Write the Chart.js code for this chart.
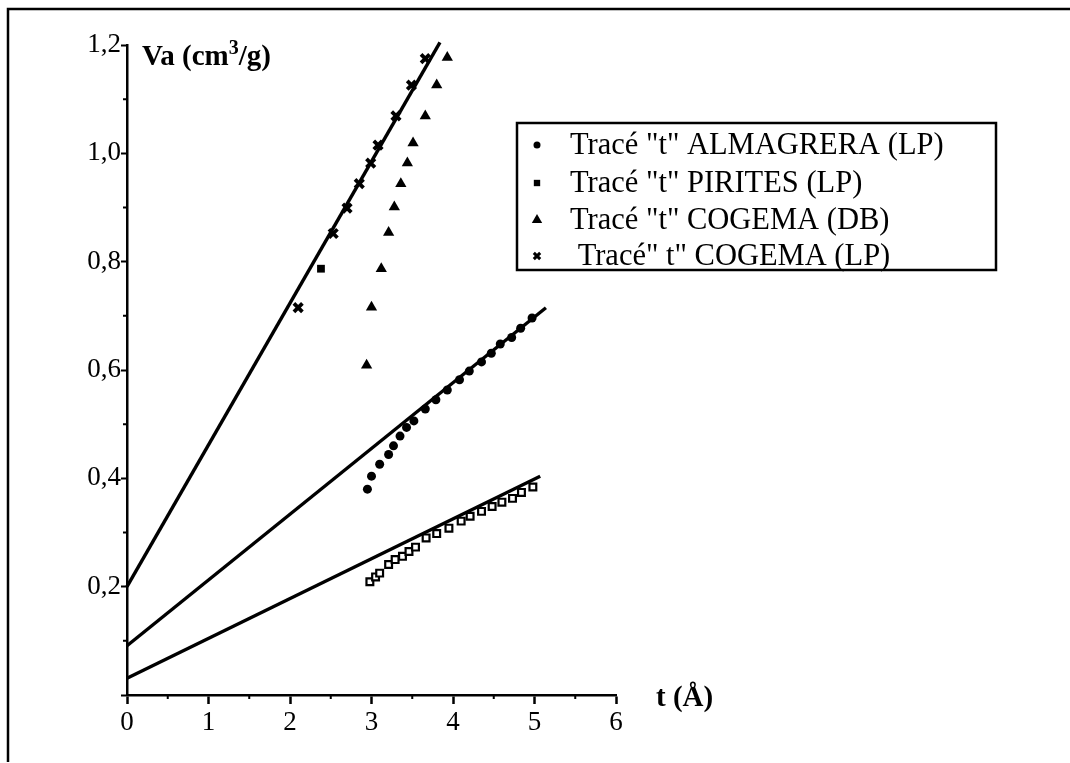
<!DOCTYPE html>
<html><head><meta charset="utf-8">
<script src="https://cdn.jsdelivr.net/npm/chart.js@4.4.0/dist/chart.umd.min.js"></script>
<style>html,body{margin:0;padding:0;background:#fff;} #wrap{width:1070px;height:763px;position:relative;}</style>
</head><body><div id="wrap"><canvas id="c"></canvas></div>
<script>
// ---- data ----
const seriesLabels = ['Tracé "t" ALMAGRERA (LP)', 'Tracé "t" PIRITES (LP)', 'Tracé "t" COGEMA (DB)', ' Tracé" t" COGEMA (LP)'];

const almagreraT = [2.95,3.00,3.10,3.21,3.27,3.35,3.43,3.52,3.66,3.79,3.93,4.08,4.20,4.35,4.47,4.58,4.72,4.83,4.97];
const almagreraV = [0.380,0.404,0.426,0.444,0.460,0.478,0.494,0.506,0.528,0.545,0.563,0.582,0.598,0.615,0.631,0.648,0.660,0.677,0.696];

const piritesT = [2.98,3.05,3.10,3.21,3.29,3.38,3.46,3.54,3.67,3.80,3.95,4.10,4.21,4.35,4.48,4.60,4.73,4.84,4.98];
const piritesV = [0.209,0.218,0.225,0.241,0.250,0.256,0.265,0.273,0.290,0.298,0.308,0.321,0.330,0.339,0.348,0.356,0.363,0.374,0.384];

const cogemaDbT = [2.94,3.00,3.12,3.21,3.28,3.36,3.44,3.51,3.66,3.80,3.93];
const cogemaDbV = [0.609,0.716,0.787,0.854,0.901,0.944,0.982,1.019,1.069,1.126,1.177];

const cogemaLpT = [2.10,2.38,2.53,2.70,2.85,2.99,3.08,3.30,3.49,3.66];
const cogemaLpV = [0.715,0.787,0.852,0.899,0.944,0.982,1.015,1.069,1.126,1.175];

// fitted straight lines (end points)
const fitCogemaLpT = [0, 3.84];
const fitCogemaLpV = [0.200, 1.205];
const fitAlmagreraT = [0, 5.14];
const fitAlmagreraV = [0.091, 0.715];
const fitPiritesT = [0, 5.07];
const fitPiritesV = [0.031, 0.404];

const xTicks = [0,1,2,3,4,5,6];
const yTicks = [0,0.2,0.4,0.6,0.8,1.0,1.2];

const pts = (t, v) => t.map((x, i) => ({x, y: v[i]}));

const scatterBase = {type:'scatter', showLine:false, borderColor:'#000', backgroundColor:'#000', clip:false};
const lineBase = {type:'line', showLine:true, borderColor:'#000', borderWidth:3.4, pointRadius:0, fill:false, tension:0, clip:false};

const datasets = [
  Object.assign({}, scatterBase, {label: seriesLabels[0], data: pts(almagreraT, almagreraV), pointStyle:'circle', pointRadius:4.5, borderWidth:0}),
  Object.assign({}, scatterBase, {label: seriesLabels[1], data: pts(piritesT, piritesV), pointStyle:'rect', pointRadius:4.8, borderWidth:2.2, backgroundColor:'#fff'}),
  Object.assign({}, scatterBase, {label: seriesLabels[2], data: pts(cogemaDbT, cogemaDbV), pointStyle:'triangle', pointRadius:6.5, borderWidth:0}),
  Object.assign({}, scatterBase, {label: seriesLabels[3], data: pts(cogemaLpT, cogemaLpV),
    pointStyle: cogemaLpT.map((_, i) => i === 1 ? 'rect' : 'crossRot'),
    pointRadius: cogemaLpT.map((_, i) => i === 1 ? 5.5 : 6),
    borderWidth: cogemaLpT.map((_, i) => i === 1 ? 0 : 3.8)}),
  Object.assign({}, lineBase, {label:'fitLP', data: pts(fitCogemaLpT, fitCogemaLpV)}),
  Object.assign({}, lineBase, {label:'fitAL', data: pts(fitAlmagreraT, fitAlmagreraV)}),
  Object.assign({}, lineBase, {label:'fitPI', data: pts(fitPiritesT, fitPiritesV)})
];

const serif = "'Liberation Serif', 'Times New Roman', serif";

const decor = {
  id: 'decor',
  afterDraw(chart) {
    const ctx = chart.ctx;
    const xs = chart.scales.x, ys = chart.scales.y;
    ctx.save();
    // outer frame (left and top)
    ctx.strokeStyle = '#000'; ctx.lineWidth = 2.5;
    ctx.beginPath(); ctx.moveTo(8, 762); ctx.lineTo(8, 9); ctx.lineTo(1070, 9); ctx.stroke();
    // minor ticks
    ctx.lineWidth = 2;
    ctx.beginPath();
    for (let v = 0.5; v < 6; v += 1) { const px = xs.getPixelForValue(v); ctx.moveTo(px, xs.top); ctx.lineTo(px, xs.top + 4); }
    for (let v = 0.1; v < 1.2; v += 0.2) { const py = ys.getPixelForValue(v); ctx.moveTo(ys.right, py); ctx.lineTo(ys.right - 4, py); }
    ctx.stroke();
    // axis titles
    ctx.fillStyle = '#000';
    ctx.textBaseline = 'alphabetic'; ctx.textAlign = 'left';
    ctx.font = "bold 29px " + serif;
    let x = 142, y = 65;
    const p1 = 'Va (cm';
    ctx.fillText(p1, x, y); x += ctx.measureText(p1).width;
    ctx.font = "bold 20px " + serif;
    ctx.fillText('3', x, y - 11); x += ctx.measureText('3').width;
    ctx.font = "bold 29px " + serif;
    ctx.fillText('/g)', x, y);
    ctx.fillText('t (Å)', 656, 706);
    // legend
    ctx.lineWidth = 2.5;
    ctx.strokeRect(517, 123, 479, 147);
    const rows = [145, 183, 220, 256];
    const legendSyms = [
      {pointStyle:'circle', radius:3.5, borderWidth:0},
      {pointStyle:'rect', radius:4.5, borderWidth:0},
      {pointStyle:'triangle', radius:6, borderWidth:0},
      {pointStyle:'crossRot', radius:4.5, borderWidth:3}
    ];
    ctx.font = "30.5px " + serif;
    ctx.textBaseline = 'middle';
    for (let i = 0; i < 4; i++) {
      ctx.fillStyle = '#000'; ctx.strokeStyle = '#000'; ctx.lineWidth = legendSyms[i].borderWidth;
      Chart.helpers.drawPoint(ctx, Object.assign({rotation:0}, legendSyms[i]), 537, rows[i]);
      ctx.fillStyle = '#000';
      ctx.fillText(chart.data.datasets[i].label, 570, rows[i] + 1);
    }
    ctx.restore();
  }
};

new Chart(document.getElementById('c'), {
  data: {datasets},
  options: {
    responsive: true, maintainAspectRatio: false, animation: false, devicePixelRatio: 1,
    layout: {padding: {left: 0, top: 45, right: 454, bottom: 0}},
    plugins: {legend: {display: false}, tooltip: {enabled: false}},
    scales: {
      x: {
        type: 'linear', min: 0, max: 6,
        afterBuildTicks: (s) => { s.ticks = xTicks.map(v => ({value: v})); },
        afterFit: (s) => { s.height = 68; },
        border: {display: true, color: '#000', width: 2.5},
        grid: {display: true, drawOnChartArea: false, drawTicks: true, tickLength: 9, tickWidth: 2.5, tickColor: '#000'},
        ticks: {color: '#000', font: {family: serif, size: 27}, padding: 3, maxRotation: 0,
          callback: (v) => String(v)}
      },
      y: {
        type: 'linear', min: 0, max: 1.2,
        afterBuildTicks: (s) => { s.ticks = yTicks.map(v => ({value: v})); },
        afterFit: (s) => { s.width = 127; },
        border: {display: true, color: '#000', width: 2.5},
        grid: {display: true, drawOnChartArea: false, drawTicks: true, tickLength: 6, tickWidth: 2, tickColor: '#000'},
        ticks: {color: '#000', font: {family: serif, size: 27}, padding: 0,
          callback: (v) => v === 0 ? '' : v.toFixed(1).replace('.', ',')}
      }
    }
  },
  plugins: [decor]
});
</script>
</body></html>
